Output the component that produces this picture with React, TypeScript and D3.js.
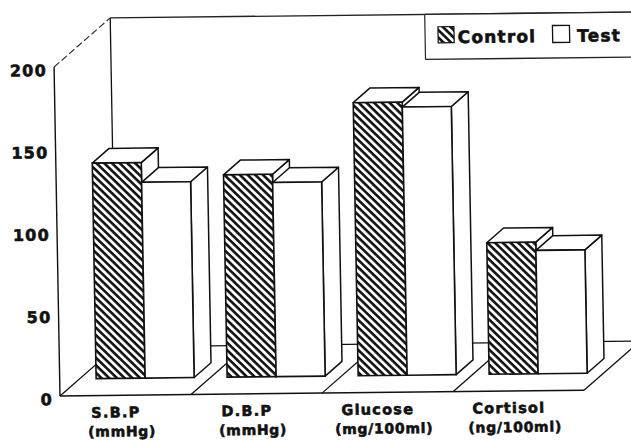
import React from "react";
import * as d3 from "d3";

const categories = ["S.B.P", "D.B.P", "Glucose", "Cortisol"];
const units = ["(mmHg)", "(mmHg)", "(mg/100ml)", "(ng/100ml)"];
const seriesNames = ["Control", "Test"];
const controlValues = [131, 123, 166, 80];
const testValues = [119, 118, 163, 75];
const yTicks = [0, 50, 100, 150, 200];

const W = 631;
const H = 441;
// oblique depth vector of the floor (front -> back wall)
const DX = 57;
const DY = -48.5;
const BAR_FRONT = 0.35;
const BAR_DEPTH = 0.3;
// scan skew
const SKB = -0.011;
const SKC = 0.018;

const FONT = "'DejaVu Sans', sans-serif";

export default function App() {
  const x = d3.scaleBand<string>().domain(categories).range([60, 584]).paddingInner(0).paddingOuter(0);
  const xs = d3.scaleBand<string>().domain(seriesNames).range([16.5, 114.5]);
  const y = d3.scaleLinear().domain([0, 200]).range([396, 67]);

  const y0 = y(0);
  const yTop = y(200);
  const right = 700;

  const fdx = BAR_FRONT * DX;
  const fdy = BAR_FRONT * DY;
  const ddx = BAR_DEPTH * DX;
  const ddy = BAR_DEPTH * DY;
  const bw = xs.bandwidth();

  const data = [controlValues, testValues];

  const pts = (arr: [number, number][]) => arr.map((p) => p.join(",")).join(" ");

  const bars: React.ReactNode[] = [];
  categories.forEach((c, i) => {
    seriesNames.forEach((s, j) => {
      const v = data[j][i];
      const xl = (x(c) as number) + (xs(s) as number) + fdx;
      const xr = xl + bw;
      const yt = y(v) + fdy;
      const yb = y0 + fdy;
      bars.push(
        <g key={c + s}>
          <polygon
            points={pts([[xr, yt], [xr + ddx, yt + ddy], [xr + ddx, yb + ddy], [xr, yb]])}
            fill="#fff"
            stroke="#111"
            strokeWidth={1.5}
            strokeLinejoin="round"
          />
          <polygon
            points={pts([[xl, yt], [xr, yt], [xr + ddx, yt + ddy], [xl + ddx, yt + ddy]])}
            fill="#fff"
            stroke="#111"
            strokeWidth={1.5}
            strokeLinejoin="round"
          />
          <rect
            x={xl}
            y={yt}
            width={bw}
            height={yb - yt}
            fill={j === 0 ? "url(#hatch)" : "#fff"}
            stroke="#111"
            strokeWidth={1.6}
          />
        </g>
      );
    });
  });

  const bandEdges = categories.map((c) => x(c) as number).concat([(x(categories[3]) as number) + x.bandwidth()]);

  const e = -SKC * 396;
  const f = -60 * SKB;

  const heavy = { stroke: "#111", strokeWidth: 0.6, fill: "#111" };

  return (
    <svg
      width={W}
      height={H}
      style={{ position: "fixed", left: 0, top: 0, background: "#fff" }}
      fontFamily={FONT}
    >
      <defs>
        <pattern id="hatch" patternUnits="userSpaceOnUse" width={5.4} height={5.4} patternTransform="rotate(45)">
          <rect x={0} y={0} width={5.4} height={5.4} fill="#fff" />
          <rect x={0} y={0} width={5.4} height={2.6} fill="#111" />
        </pattern>
      </defs>
      <rect x={0} y={0} width={W} height={H} fill="#fff" />
      <g transform={`matrix(1,${SKB},${SKC},1,${e},${f})`}>
        {/* left wall */}
        <line x1={60} y1={yTop} x2={60} y2={y0} stroke="#111" strokeWidth={1.4} />
        <line x1={60} y1={yTop} x2={60 + DX} y2={yTop + DY} stroke="#333" strokeWidth={1.2} strokeDasharray="7,3" />
        <line x1={60 + DX} y1={yTop + DY} x2={60 + DX} y2={y0 + DY} stroke="#111" strokeWidth={1.3} />
        {/* back wall */}
        <line x1={60 + DX} y1={yTop + DY} x2={right} y2={yTop + DY} stroke="#222" strokeWidth={1.3} />
        <line x1={60 + DX} y1={y0 + DY} x2={right} y2={y0 + DY} stroke="#111" strokeWidth={1.3} />
        {/* floor */}
        <line x1={60} y1={y0} x2={bandEdges[4]} y2={y0} stroke="#111" strokeWidth={1.5} />
        {bandEdges.map((bx, k) => (
          <line key={k} x1={bx} y1={y0} x2={bx + DX} y2={y0 + DY} stroke="#111" strokeWidth={1.3} />
        ))}
        {bars}
        {/* y tick labels */}
        {yTicks.map((t) => (
          <text
            key={t}
            x={53}
            y={y(t) + 9}
            textAnchor="end"
            fontSize={16}
            fontWeight="bold"
            letterSpacing={1.3}
            {...heavy}
          >
            {t}
          </text>
        ))}
        {/* category labels */}
        {categories.map((c, i) => {
          const cx = (x(c) as number) + x.bandwidth() / 2;
          return (
            <g key={c}>
              <text x={cx - 10} y={418} textAnchor="middle" fontSize={14.5} fontWeight="bold" letterSpacing={1.2} {...heavy}>
                {c}
              </text>
              <text x={cx - 4} y={437} textAnchor="middle" fontSize={14} fontWeight="bold" letterSpacing={0.7} {...heavy}>
                {units[i]}
              </text>
            </g>
          );
        })}
        {/* legend */}
        <rect x={431.5} y={yTop + DY} width={right - 431.5} height={63.5 - (yTop + DY)} fill="#fff" stroke="none" />
        <line x1={431.5} y1={yTop + DY} x2={431.5} y2={63.5} stroke="#222" strokeWidth={1.2} />
        <line x1={431.5} y1={63.5} x2={right} y2={63.5} stroke="#222" strokeWidth={1.3} />
        <line x1={431.5} y1={yTop + DY} x2={right} y2={yTop + DY} stroke="#222" strokeWidth={1.3} />
        <rect x={444.5} y={31} width={16} height={16} fill="url(#hatch)" stroke="#111" strokeWidth={1.2} />
        <text x={464} y={47.5} fontSize={17} fontWeight="bold" letterSpacing={1.2} {...heavy}>
          {seriesNames[0]}
        </text>
        <rect x={559} y={31} width={17} height={17} fill="#fff" stroke="#111" strokeWidth={1.3} />
        <text x={583.5} y={47.5} fontSize={17} fontWeight="bold" letterSpacing={1.2} {...heavy}>
          {seriesNames[1]}
        </text>
      </g>
    </svg>
  );
}
